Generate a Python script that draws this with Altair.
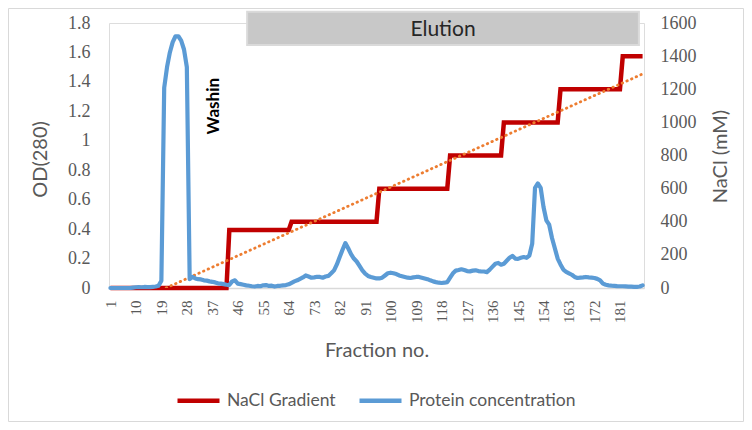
import altair as alt
import pandas as pd

# ---------------- data ----------------
fractions = list(range(1, 190))

protein_od = [
    0, 0, 0, 0, 0, 0, 0, 0, 0.003, 0.005,
    0.006, 0.005, 0.007, 0.006, 0.006, 0.008, 0.01, 0.015, 0.05, 1.36,
    1.50, 1.60, 1.67, 1.71, 1.71, 1.68, 1.62, 1.50, 0.06, 0.075,
    0.065, 0.06, 0.058, 0.052, 0.05, 0.045, 0.042, 0.038, 0.032, 0.03,
    0.026, 0.022, 0.02, 0.045, 0.052, 0.03, 0.026, 0.022, 0.018, 0.015,
    0.012, 0.01, 0.014, 0.012, 0.018, 0.02, 0.014, 0.016, 0.01, 0.014,
    0.015, 0.018, 0.02, 0.025, 0.035, 0.045, 0.052, 0.062, 0.072, 0.085,
    0.078, 0.07, 0.072, 0.076, 0.075, 0.07, 0.078, 0.082, 0.1, 0.12,
    0.16, 0.21, 0.26, 0.305, 0.27, 0.23, 0.2, 0.18, 0.15, 0.12,
    0.097, 0.082, 0.075, 0.07, 0.065, 0.065, 0.07, 0.085, 0.1, 0.104,
    0.1, 0.095, 0.085, 0.08, 0.075, 0.07, 0.068, 0.072, 0.075, 0.075,
    0.07, 0.065, 0.06, 0.052, 0.045, 0.04, 0.036, 0.034, 0.036, 0.04,
    0.07, 0.1, 0.118, 0.122, 0.127, 0.122, 0.115, 0.113, 0.118, 0.12,
    0.115, 0.112, 0.112, 0.108, 0.125, 0.145, 0.165, 0.17, 0.158, 0.165,
    0.185, 0.205, 0.218, 0.2, 0.198, 0.205, 0.21, 0.205, 0.22, 0.3,
    0.68, 0.71, 0.68, 0.55, 0.46, 0.43, 0.34, 0.27, 0.2, 0.16,
    0.125, 0.11, 0.1, 0.09, 0.075, 0.068, 0.07, 0.072, 0.075, 0.072,
    0.07, 0.068, 0.062, 0.052, 0.03, 0.022, 0.018, 0.016, 0.015, 0.013,
    0.012, 0.012, 0.011, 0.01, 0.009, 0.008, 0.008, 0.01, 0.018,
]

# NaCl gradient: first fraction of each step and its level (mM)
nacl_step_start = [1, 43, 65, 96, 121, 140, 160, 182]
nacl_step_level = [0, 350, 400, 600, 800, 1000, 1200, 1400]

x_ticks = list(range(1, 182, 9))
od_ticks = [0, 0.2, 0.4, 0.6, 0.8, 1.0, 1.2, 1.4, 1.6, 1.8]
nacl_ticks = [0, 200, 400, 600, 800, 1000, 1200, 1400, 1600]

series_names = ["NaCl Gradient", "Protein concentration"]
series_colors = ["#C00000", "#5B9BD5"]

# annotations
elution_x = [49.3, 187.7]
elution_y = [1.651, 1.877]
elution_label = ["Elution"]
elution_label_y = [1.753]
washin_label = ["Washin"]
washin_pos = [37.5, 1.235]

# ---------------- build tables ----------------
nacl = []
for f in fractions:
    lvl = None
    for s, l in zip(nacl_step_start, nacl_step_level):
        if f >= s:
            lvl = l
    nacl.append(lvl)

df_prot = pd.DataFrame({"frac": fractions, "od": protein_od})
df_nacl = pd.DataFrame({"frac": fractions, "nacl": nacl})
df_elution = pd.DataFrame({"x0": [elution_x[0]], "x1": [elution_x[1]],
                           "y0": [elution_y[0]], "y1": [elution_y[1]],
                           "xm": [(elution_x[0] + elution_x[1]) / 2],
                           "ym": elution_label_y, "label": elution_label})
df_washin = pd.DataFrame({"x": [washin_pos[0]], "y": [washin_pos[1]], "label": washin_label})

W, H = 535, 265
SERIF = "Liberation Serif"
SANS = "Lato"
GRAY = "#595959"

x_scale = alt.Scale(domain=[0.5, 189.5], nice=False, zero=False)
x_axis = alt.Axis(values=x_ticks, labelAngle=270, grid=False, ticks=False,
                  domainColor="#D9D9D9", domainWidth=1.3,
                  labelFont=SERIF, labelFontSize=15, labelColor=GRAY, labelPadding=12,
                  title="Fraction no.", titleFont=SANS, titleFontSize=20,
                  titleFontWeight="normal", titleColor=GRAY,
                  titleBaseline="alphabetic", titleY=68)

yl_scale = alt.Scale(domain=[0, 1.8], nice=False)
yl_axis = alt.Axis(orient="left", values=od_ticks, format=".1~f", grid=False,
                   domain=False, ticks=False, labelFont=SERIF, labelFontSize=18,
                   labelColor=GRAY, labelPadding=19,
                   title="OD(280)", titleFont=SANS, titleFontSize=20,
                   titleFontWeight="normal", titleColor=GRAY, titleAngle=270,
                   titleBaseline="alphabetic", titleAlign="center",
                   titleX=-63, titleY=136)

yr_scale = alt.Scale(domain=[0, 1600], nice=False)
yr_axis = alt.Axis(orient="right", values=nacl_ticks, format="d", grid=False,
                   domain=False, ticks=False, labelFont=SERIF, labelFontSize=18,
                   labelColor=GRAY, labelPadding=16,
                   title="NaCl (mM)", titleFont=SANS, titleFontSize=20,
                   titleFontWeight="normal", titleColor=GRAY, titleAngle=270,
                   titleBaseline="alphabetic", titleAlign="center",
                   titleX=82, titleY=133)

color_scale = alt.Scale(domain=series_names, range=series_colors)
legend = alt.Legend(orient="none", legendX=66, legendY=354, direction="horizontal",
                    title=None, symbolType="stroke", symbolSize=1764,
                    symbolStrokeWidth=4.5, labelFont=SANS, labelFontSize=17.5,
                    labelColor=GRAY, labelOffset=5, labelLimit=0,
                    columnPadding=14, padding=0)

# ---------------- right-axis layers ----------------
nacl_line = alt.Chart(df_nacl).transform_calculate(
    series="'NaCl Gradient'"
).mark_line(strokeWidth=4.5).encode(
    x=alt.X("frac:Q", scale=x_scale, axis=x_axis),
    y=alt.Y("nacl:Q", scale=yr_scale, axis=yr_axis),
    color=alt.Color("series:N", scale=color_scale, legend=legend),
)

trend = alt.Chart(df_nacl).transform_regression(
    "frac", "nacl", method="linear"
).mark_line(color="#ED7D31", strokeWidth=2.8, strokeDash=[0.5, 4.6],
            strokeCap="round", clip=True).encode(
    x=alt.X("frac:Q", scale=x_scale, axis=x_axis),
    y=alt.Y("nacl:Q", scale=yr_scale, axis=yr_axis),
)

right = alt.layer(nacl_line, trend)

# ---------------- left-axis layers ----------------
elution_box = alt.Chart(df_elution).mark_rect(
    fill="#C8C8C8", stroke="#DADADA", strokeWidth=2
).encode(
    x=alt.X("x0:Q", scale=x_scale, axis=x_axis), x2="x1:Q",
    y=alt.Y("y0:Q", scale=yl_scale, axis=yl_axis), y2="y1:Q",
)

elution_text = alt.Chart(df_elution).mark_text(
    font=SANS, fontSize=21, color="#262626", baseline="middle", align="center"
).encode(
    x=alt.X("xm:Q", scale=x_scale, axis=x_axis),
    y=alt.Y("ym:Q", scale=yl_scale, axis=yl_axis),
    text="label:N",
)

prot_line = alt.Chart(df_prot).transform_calculate(
    series="'Protein concentration'"
).mark_line(strokeWidth=4.2, strokeJoin="round", strokeCap="round").encode(
    x=alt.X("frac:Q", scale=x_scale, axis=x_axis),
    y=alt.Y("od:Q", scale=yl_scale, axis=yl_axis),
    color=alt.Color("series:N", scale=color_scale, legend=legend),
)

washin_text = alt.Chart(df_washin).mark_text(
    font=SANS, fontSize=17, fontWeight="bold", color="#000000",
    angle=270, baseline="middle", align="center"
).encode(
    x=alt.X("x:Q", scale=x_scale, axis=x_axis),
    y=alt.Y("y:Q", scale=yl_scale, axis=yl_axis),
    text="label:N",
)

border = alt.Chart(df_washin).mark_rect(
    fill=None, stroke="#D9D9D9", strokeWidth=1
).encode(
    x=alt.value(-100.5), x2=alt.value(W + 99.5),
    y=alt.value(-14.5), y2=alt.value(H + 133.5),
)

left = alt.layer(elution_box, elution_text, prot_line, washin_text)

chart = alt.layer(right, left, border).resolve_scale(
    y="independent"
).properties(
    width=W, height=H,
    autosize=alt.AutoSizeParams(type="none"),
    padding={"left": 101, "top": 15, "right": 100, "bottom": 134},
).configure_view(stroke=None).configure(background="white")

chart.save("out.html", embed_options={"renderer": "svg", "actions": False})
